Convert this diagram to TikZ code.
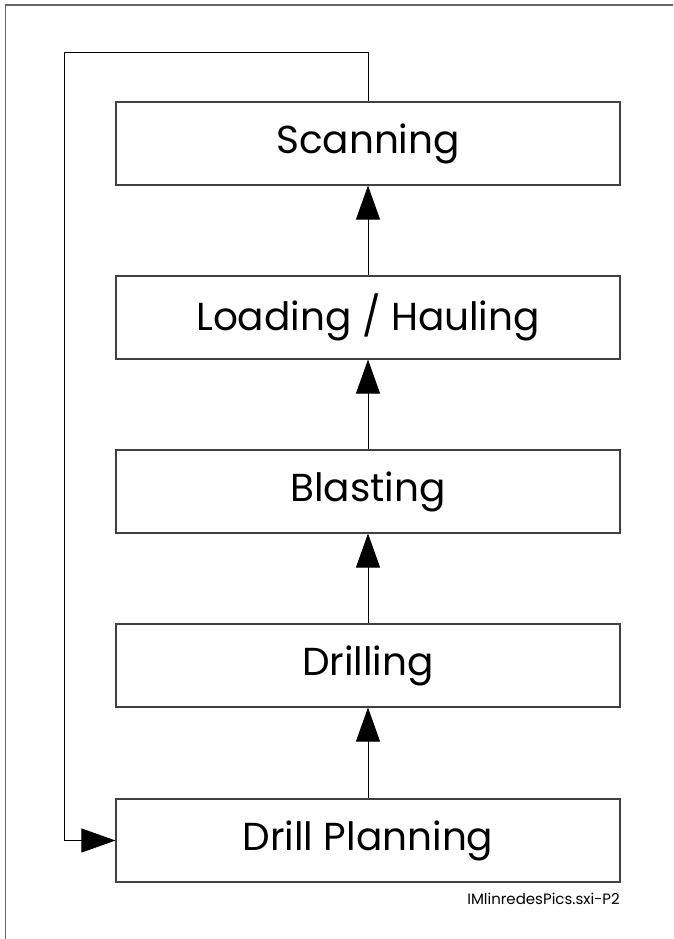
\documentclass[tikz,border=0pt]{standalone}
\usepackage{fontspec}
\setmainfont{Poppins}
\usetikzlibrary{arrows.meta,calc}
\begin{document}
\begin{tikzpicture}[x=1pt,y=-1pt,
  stagebox/.style={draw=black!75,line width=1.1pt,minimum width=504pt,minimum height=83pt,inner sep=0pt,font=\fontsize{39}{42}\selectfont},
  flow/.style={draw=black,line width=0.9pt,-{Triangle[length=34pt,width=24pt]}},
  framelin/.style={draw=black!60,line width=1.5pt}]
\useasboundingbox (0,0) rectangle (673,939);
\fill[white] (0,0) rectangle (673,939);
\draw[framelin] (5.5,939) -- (5.5,5) -- (673,5);
\node[stagebox] (scan) at (368,143.5) {Scanning};
\node[stagebox] (load) at (368,317.5) {Loading / Hauling};
\node[stagebox] (blast) at (368,491.5) {Blasting};
\node[stagebox] (drill) at (368,665.5) {Drilling};
\node[stagebox] (plan) at (368,840.5) {Drill Planning};
\node[anchor=base east,inner sep=0pt,font=\fontsize{15}{17}\selectfont] (tag) at (620,904) {IMlinredesPics.sxi-P2};
\coordinate (lc) at (64,52);
\draw[flow] (plan) -- (drill);
\draw[flow] (drill) -- (blast);
\draw[flow] (blast) -- (load);
\draw[flow] (load) -- (scan);
\draw[flow] (scan.north) -- (scan.north |- lc) -- (lc) -- (lc |- plan.west) -- (plan.west);
\end{tikzpicture}
\end{document}
